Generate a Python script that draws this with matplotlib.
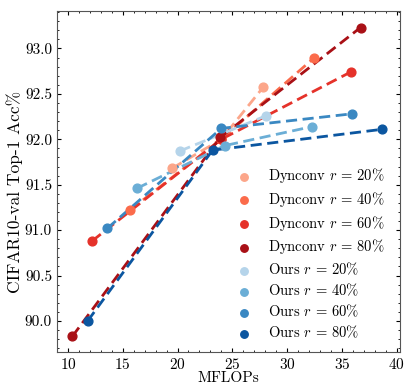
import matplotlib
matplotlib.use("Agg")
import matplotlib.pyplot as plt
from matplotlib.ticker import AutoMinorLocator

plt.rcParams['font.family'] = 'serif'
plt.rcParams['font.serif'] = ['cmr10']
plt.rcParams['mathtext.fontset'] = 'cm'
plt.rcParams['axes.formatter.use_mathtext'] = True
plt.rcParams['font.size'] = 11

ratios = ['20', '40', '60', '80']

# Dynconv series: MFLOPs and accuracy
dyn_x = [[19.5, 24.0, 27.8],
         [15.65, 24.0, 32.5],
         [12.2, 24.0, 35.8],
         [10.4, 23.9, 36.7]]
dyn_y = [[91.68, 92.00, 92.57],
         [91.22, 92.00, 92.90],
         [90.88, 92.00, 92.74],
         [89.83, 92.02, 93.23]]

# Ours series
ours_x = [[20.2, 28.1],
          [16.3, 24.3, 32.3],
          [13.6, 24.0, 35.9],
          [11.8, 23.2, 38.7]]
ours_y = [[91.87, 92.26],
          [91.46, 91.93, 92.14],
          [91.02, 92.12, 92.28],
          [90.00, 91.88, 92.11]]

dyn_colors = ['#fca68a', '#fb6b4b', '#e5322a', '#a91016']
ours_colors = ['#b5d4ea', '#6baed6', '#3a88c2', '#0b56a0']

fig = plt.figure(figsize=(4.04, 3.85), dpi=100)
ax = fig.add_axes([0.141, 0.086, 0.849, 0.885])

for i in range(4):
    ax.plot(dyn_x[i], dyn_y[i], '--', color=dyn_colors[i], lw=2, dashes=(4, 2))
    ax.scatter(dyn_x[i], dyn_y[i], color=dyn_colors[i], s=40, zorder=3,
               label=r'Dynconv $r\,=\,' + ratios[i] + r'\%$')
for i in range(4):
    ax.plot(ours_x[i], ours_y[i], '--', color=ours_colors[i], lw=2, dashes=(4, 2))
    ax.scatter(ours_x[i], ours_y[i], color=ours_colors[i], s=40, zorder=3,
               label=r'Ours $r\,=\,' + ratios[i] + r'\%$')

ax.set_xlim(9.0, 40.3)
ax.set_ylim(89.66, 93.41)
ax.set_xticks([10, 15, 20, 25, 30, 35, 40])
ax.set_yticks([90.0, 90.5, 91.0, 91.5, 92.0, 92.5, 93.0])
ax.set_yticklabels(['90.0', '90.5', '91.0', '91.5', '92.0', '92.5', '93.0'])
ax.xaxis.set_minor_locator(AutoMinorLocator(5))
ax.yaxis.set_minor_locator(AutoMinorLocator(5))
ax.tick_params(which='both', direction='in', top=True, right=True)
ax.tick_params(which='major', length=3)
ax.tick_params(which='minor', length=1.5)
for s in ax.spines.values():
    s.set_color('#555555')

ax.set_xlabel('MFLOPs', labelpad=0)
ax.set_ylabel('CIFAR10-val Top-1 Acc%', fontsize=12.5)
ax.yaxis.set_label_coords(-0.10, 0.47)

ax.legend(loc='lower right', bbox_to_anchor=(0.985, 0.003), frameon=False,
          fontsize=10.5, handletextpad=0.9, labelspacing=0.32,
          borderaxespad=0.3, handlelength=1.5, markerscale=0.85)

fig.savefig('out.png', dpi=100)
